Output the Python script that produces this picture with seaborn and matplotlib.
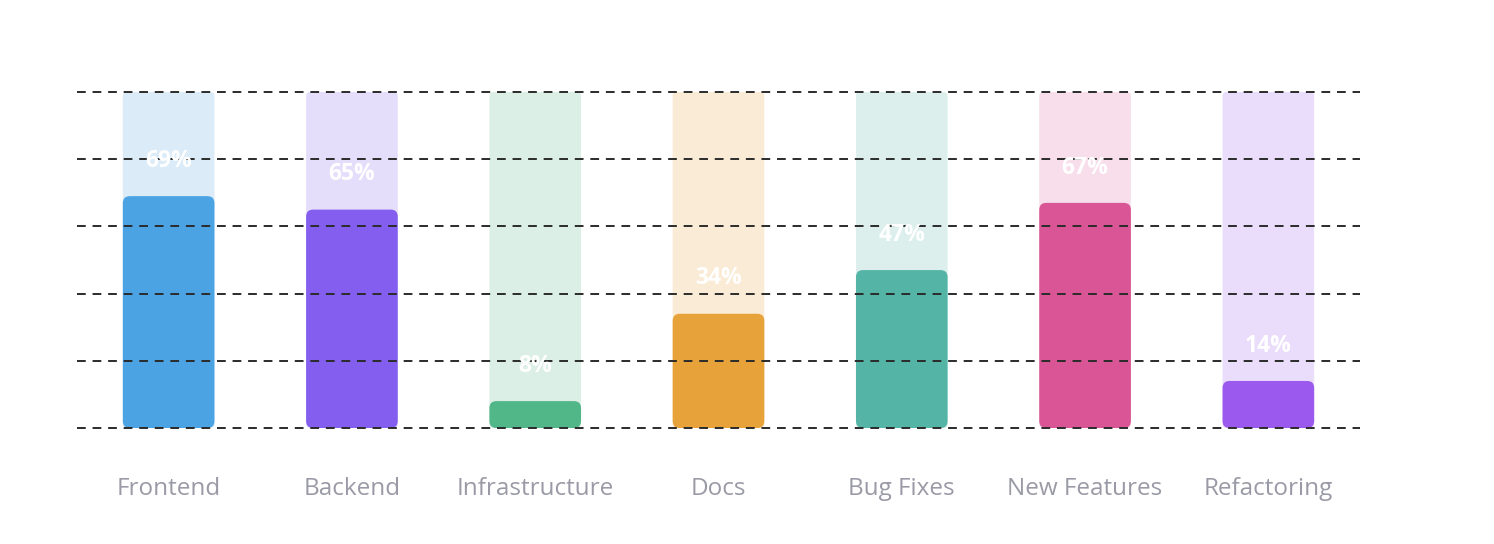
import matplotlib
matplotlib.use('Agg')
import matplotlib.pyplot as plt
from matplotlib.patches import FancyBboxPatch
import seaborn as sns
import pandas as pd

categories = ['Frontend', 'Backend', 'Infrastructure', 'Docs', 'Bug Fixes', 'New Features', 'Refactoring']
values = [69, 65, 8, 34, 47, 67, 14]
bar_colors = ['#4BA3E3', '#845EEE', '#52B788', '#E8A23A', '#54B5A6', '#D95595', '#9B59EE']
track_colors = ['#DBECF8', '#E5DEFB', '#DCEFE6', '#FAEBD6', '#DCEFEC', '#F7DEEA', '#EADDFB']
grid_levels = [0, 20, 40, 60, 80, 100]

df = pd.DataFrame({'category': categories, 'value': values, 'full': [100] * len(values)})

sns.set_style('white')
plt.rcParams['font.family'] = ['Open Sans', 'DejaVu Sans']

W, H = 1494, 544
fig = plt.figure(figsize=(W / 100, H / 100), dpi=100)
ax = fig.add_axes([77 / W, (H - 428) / H, (1360 - 77) / W, (428 - 92) / H])

sns.barplot(data=df, x='category', y='full', hue='category', palette=track_colors,
            width=0.5, legend=False, ax=ax, saturation=1)
sns.barplot(data=df, x='category', y='value', hue='category', palette=bar_colors,
            width=0.5, legend=False, ax=ax, saturation=1)

ax.set_xlim(-0.5, len(categories) - 0.5)
ax.set_ylim(0, 100)

# swap the plain rectangles for rounded ones
px_x = (len(categories)) / (1360 - 77)
px_y = 100 / (428 - 92)
aspect = px_y / px_x
n = len(categories)
patches = list(ax.patches)
for i, p in enumerate(patches):
    x, y, w, h = p.get_x(), p.get_y(), p.get_width(), p.get_height()
    r = (4 if i < n else 7) * px_x
    rp = FancyBboxPatch((x, y), w, h, boxstyle=f'round,pad=0,rounding_size={r}',
                        mutation_aspect=aspect, facecolor=p.get_facecolor(),
                        edgecolor='none', linewidth=0, zorder=1 if i < n else 2)
    p.remove()
    ax.add_patch(rp)

for lvl in grid_levels:
    ax.axhline(lvl, color='#2b2b2b', linewidth=1.4, linestyle=(0, (4.5, 3.5)),
               zorder=3, clip_on=False)

for i, v in enumerate(values):
    ax.text(i, v + 10.5, f'{v}%', color='white', fontsize=16.5, fontweight='bold',
            ha='center', va='center', zorder=4)

for s in ax.spines.values():
    s.set_visible(False)
ax.set_yticks([])
ax.set_xlabel('')
ax.set_ylabel('')
ax.tick_params(axis='x', length=0, pad=35, labelsize=17.5, labelcolor='#9A9AA6')

fig.savefig('out.png', dpi=100)
